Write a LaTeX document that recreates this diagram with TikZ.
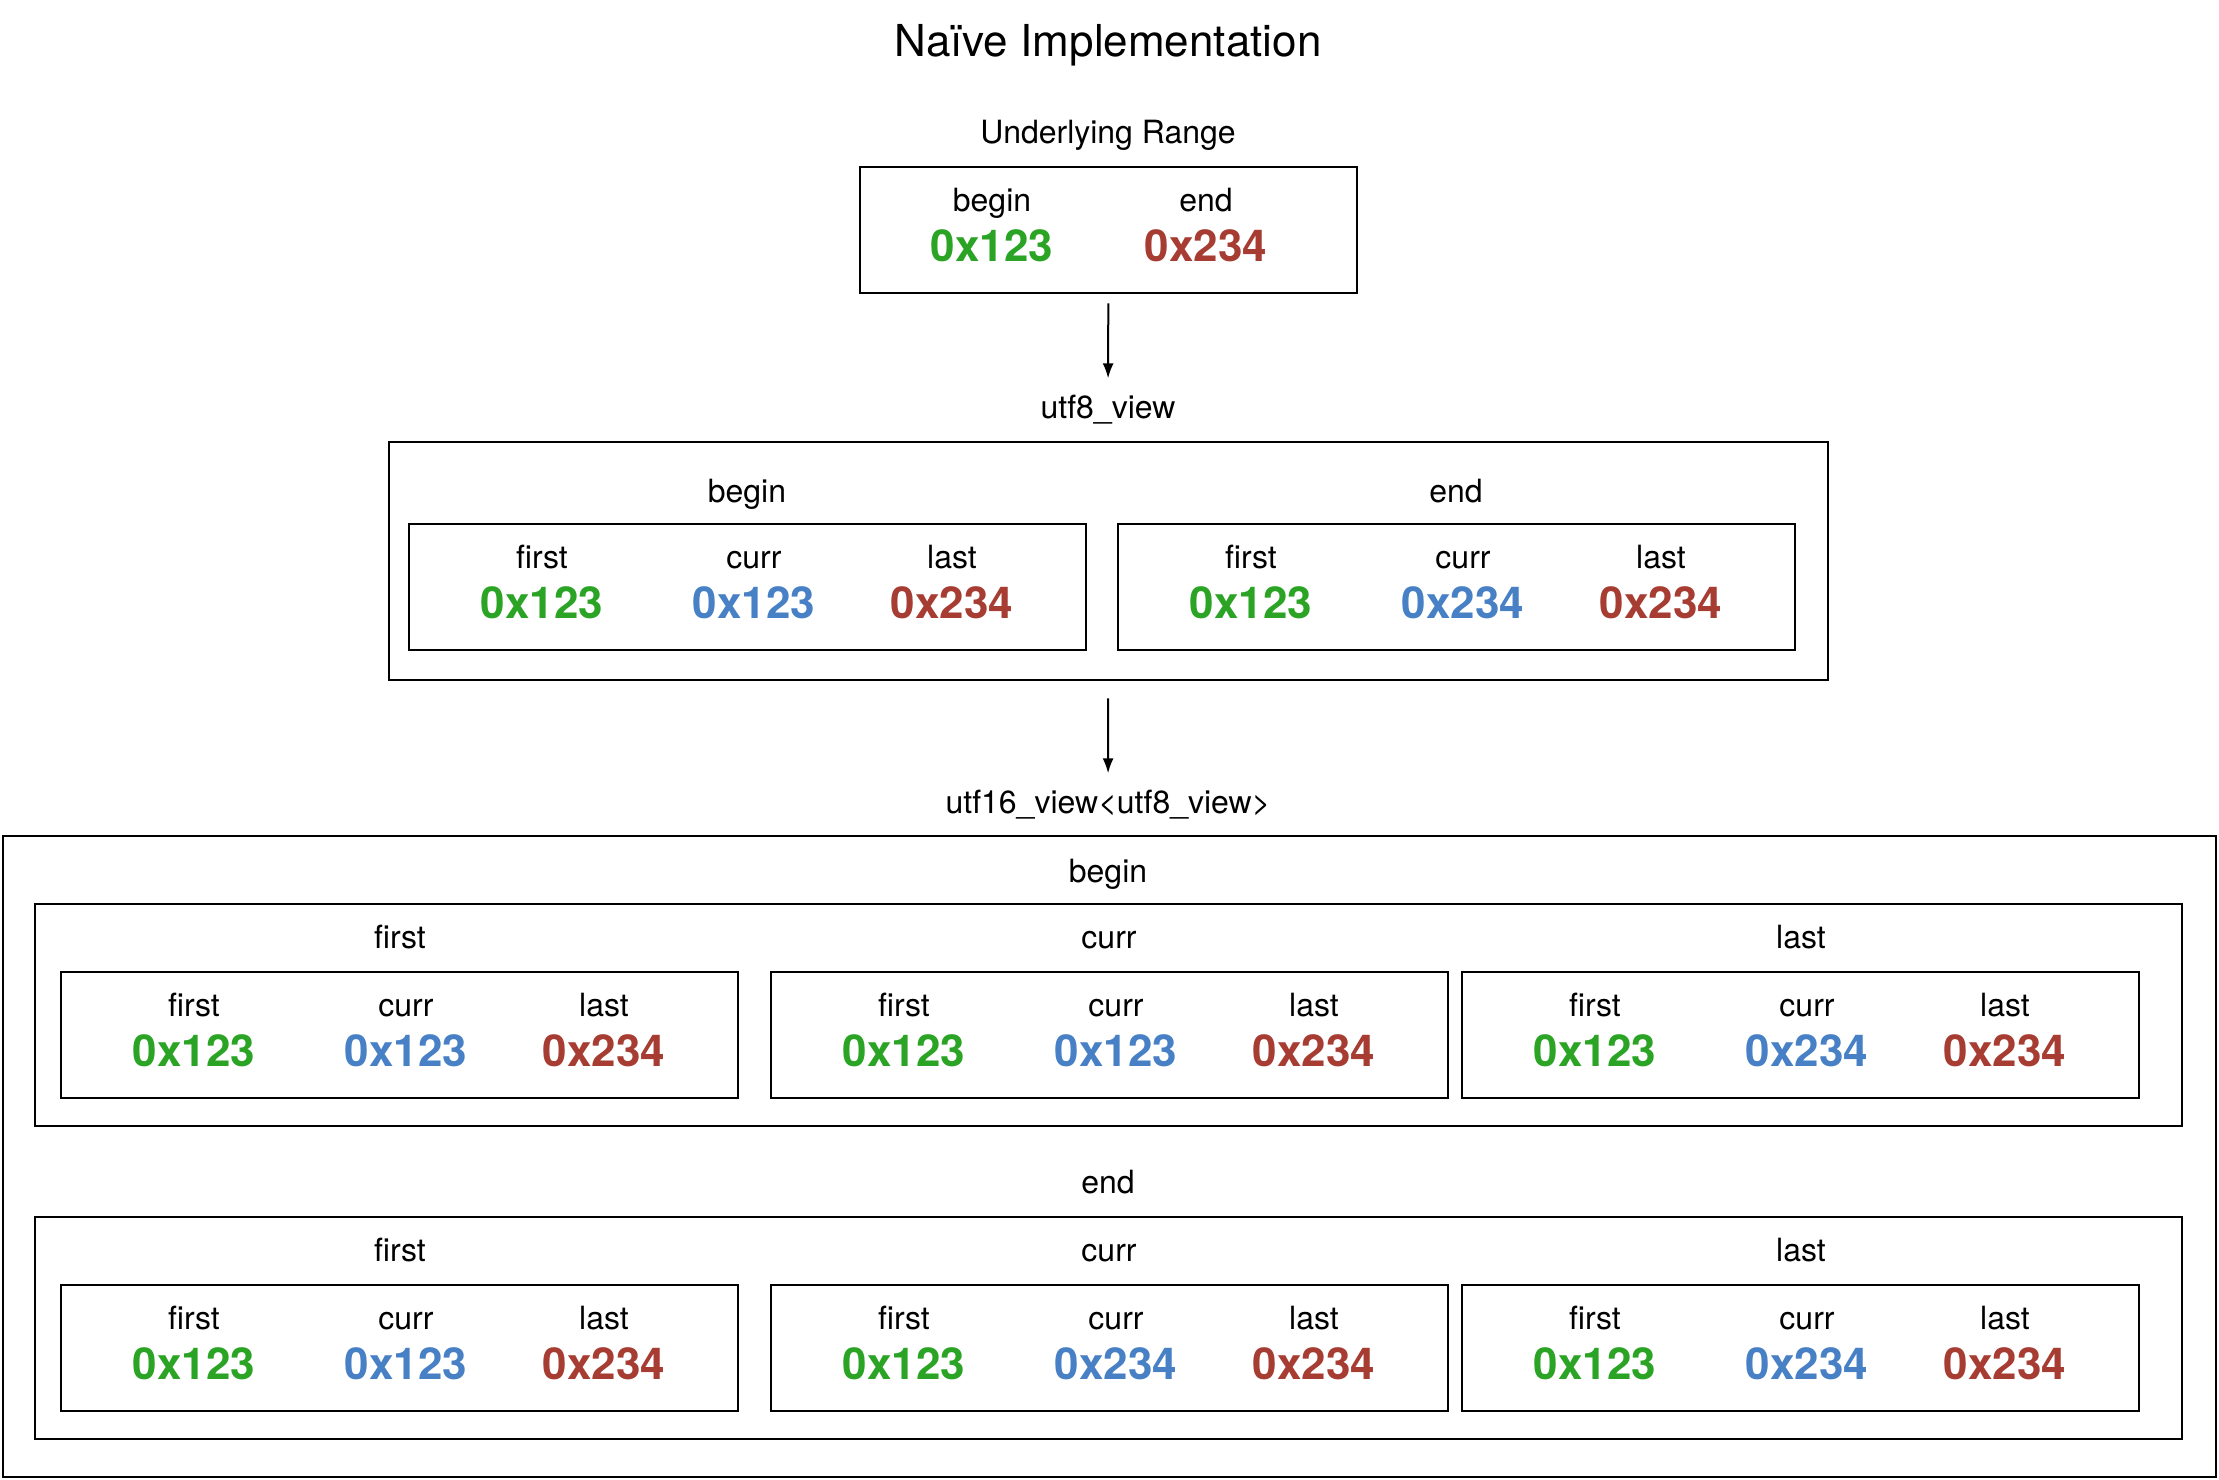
\documentclass[tikz,border=0pt]{standalone}
\usepackage{fontspec}
\setmainfont{TeX Gyre Heros}
\usetikzlibrary{arrows.meta}
\definecolor{ptrgreen}{RGB}{43,164,37}
\definecolor{ptrblue}{RGB}{72,128,197}
\definecolor{ptrred}{RGB}{166,60,50}

\begin{document}
\begin{tikzpicture}[x=1pt, y=-1pt,
		box/.style={draw, line width=2.7pt, inner sep=0pt},
		lbl/.style={anchor=base, inner sep=0pt, font=\fontsize{32}{38}\selectfont},
		val/.style={anchor=base, inner sep=0pt, font=\fontsize{44}{52}\selectfont\bfseries},
		flow/.style={-{Latex[length=15pt, width=11pt]}, line width=2pt}]
		%\draw[help lines] (0,0) grid (2219,1480);
		\useasboundingbox (0,0) rectangle (2219,1480);
		
		\node[lbl, font=\fontsize{44}{52}\selectfont] (title) at (1108,57) {Naïve Implementation};
		
		\node[lbl] (rnglbl) at (1108,143) {Underlying Range};
		\node[box, minimum width=497pt, minimum height=126pt] (rng) at (1108.5,230) {};
		\node[lbl] (u8lbl) at (1108,418) {utf8\_view};
		\node[box, minimum width=1439pt, minimum height=238pt] (u8) at (1108.5,561) {};
		\node[lbl] (u16lbl) at (1108,813) {utf16\_view\textless utf8\_view\textgreater};
		\node[box, minimum width=2213pt, minimum height=641pt] (u16) at (1109.5,1156.5) {};
		
		\foreach \n/\s/\col/\val/\x in {b/begin/ptrgreen/0x123/992, e/end/ptrred/0x234/1206} {
			\node[lbl] (rng\n) at (\x,211) {\s};
			\node[val, text=\col] (rng\n-v) at (\x,261) {\val};
		}
		
		\foreach \n/\s/\x in {b/begin/747, e/end/1456}
		\node[lbl] (u8\n) at (\x,502) {\s};
		
		\node[lbl] (u16b) at (1108,882) {begin};
		\node[lbl] (u16e) at (1108,1193) {end};
		
		\foreach \n/\y in {b/904, e/1217} {
			\node[box, minimum width=2147pt, minimum height=222pt] (grp\n) at (1108.5,\y+111) {};
			\foreach \m/\s/\x in {f/first/400, c/curr/1109, l/last/1801}
			\node[lbl] (grp\n\m) at (\x,\y+44) {\s};
		}
		
		\foreach \n/\x/\y/\cv in {u8b/409/524/0x123, u8e/1118/524/0x234,
			bf/61/972/0x123, bc/771/972/0x123, bl/1462/972/0x234,
			ef/61/1285/0x123, ec/771/1285/0x234, el/1462/1285/0x234} {
			\node[box, minimum width=677pt, minimum height=126pt] (p\n) at (\x+338.5,\y+63) {};
			\foreach \m/\s/\dx/\val/\col in {f/first/133/0x123/ptrgreen,
				c/curr/345/\cv/ptrblue, l/last/543/0x234/ptrred} {
				\node[lbl] (p\n\m) at (\x+\dx,\y+44) {\s};
				\node[val, text=\col] (p\n\m-v) at (\x+\dx,\y+94) {\val};
			}
		}
		
		\draw[flow, shorten <=9pt, shorten >=16pt] (rng) -- (u8lbl);
		\draw[flow, shorten <=17pt, shorten >=16pt] (u8) -- (u16lbl);
	\end{tikzpicture}
\end{document}
